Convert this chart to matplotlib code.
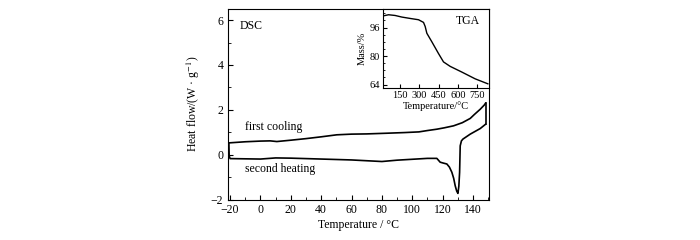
import matplotlib
matplotlib.use('Agg')
import matplotlib.pyplot as plt
from matplotlib.ticker import MultipleLocator

plt.rcParams.update({
    "font.family": ["Liberation Serif", "DejaVu Serif"],
    "mathtext.fontset": "stix",
})

# DSC loop: first cooling (148 -> -20), then second heating (-20 -> 148)
cool_t = [148.3, 147.5, 144.8, 141.0, 138.2, 133.0, 127.2, 121.0, 116.2, 110.0, 104.4,
          95.0, 83.0, 70.0, 60.0, 50.3, 40.0, 30.0, 20.0, 10.8, 6.4, 0.0, -10.0, -20.8]
cool_hf = [2.30, 2.22, 2.03, 1.80, 1.62, 1.43, 1.29, 1.20, 1.14, 1.08, 1.02,
           0.99, 0.96, 0.93, 0.92, 0.89, 0.80, 0.72, 0.65, 0.59, 0.62, 0.61, 0.58, 0.53]

heat_t = [-20.8, -20.6, -20.0, -10.0, 0.0, 10.0, 20.0, 40.0, 60.0, 80.0, 90.0, 100.0,
          110.0, 116.2, 118.4, 120.5, 122.8, 124.5, 126.1, 127.3, 128.3, 129.3, 130.1,
          130.7, 131.2, 131.6, 132.4, 133.4, 138.2, 144.8, 148.3]
heat_hf = [0.53, -0.05, -0.17, -0.18, -0.19, -0.14, -0.15, -0.19, -0.23, -0.30, -0.24, -0.20,
           -0.16, -0.16, -0.33, -0.37, -0.41, -0.55, -0.78, -1.05, -1.38, -1.62, -1.72,
           -1.40, -0.78, 0.40, 0.62, 0.70, 0.92, 1.17, 1.36]

# closing vertical segment at the hot end
end_t = [148.3, 148.3]
end_hf = [1.36, 2.30]

# TGA inset
tga_t = [20, 59, 110, 163, 230, 293, 332, 345, 358, 397, 449, 488, 540, 631, 735, 834]
tga_m = [102.6, 103.2, 102.8, 101.9, 101.1, 100.4, 98.9, 96.6, 92.8, 88.0, 81.4, 76.7,
         74.2, 71.0, 67.2, 64.4]

fig = plt.figure(figsize=(7, 2.4), dpi=100)
ax = fig.add_axes([0.325, 0.168, 0.373, 0.795])

ax.plot(cool_t, cool_hf, color='black', lw=1.2)
ax.plot(heat_t, heat_hf, color='black', lw=1.2)
ax.plot(end_t, end_hf, color='black', lw=1.2)

ax.set_xlim(-21.7, 150.3)
ax.set_ylim(-2, 6.5)
ax.xaxis.set_minor_locator(MultipleLocator(10))
ax.yaxis.set_minor_locator(MultipleLocator(1))
ax.tick_params(which='both', direction='in', labelsize=8.5, top=False, right=False)
ax.tick_params(axis='x', pad=3)
ax.tick_params(axis='y', pad=3)
ax.tick_params(which='major', length=3.5)
ax.tick_params(which='minor', length=2)
ax.set_xticks([-20, 0, 20, 40, 60, 80, 100, 120, 140])
ax.set_xticklabels(['\u221220', '0', '20', '40', '60', '80', '100', '120', '140'])
ax.set_yticks([-2, 0, 2, 4, 6])
ax.set_yticklabels(['\u22122', '0', '2', '4', '6'])
ax.set_xlabel('Temperature / \u00b0C', fontsize=8.5, labelpad=2)
ax.set_ylabel('Heat flow/(W \u00b7 g$^{-1}$)', fontsize=8.5, labelpad=6)

ax.text(-14, 5.75, 'DSC', fontsize=8.5, va='center')
ax.text(-10, 1.25, 'first cooling', fontsize=8.5, va='center')
ax.text(-10, -0.65, 'second heating', fontsize=8.5, va='center')

# inset
ins = fig.add_axes([0.547, 0.633, 0.151, 0.33])
ins.plot(tga_t, tga_m, color='black', lw=1.0)
ins.set_xlim(15, 840)
ins.set_ylim(62, 106.5)
ins.set_xticks([150, 300, 450, 600, 750])
ins.set_yticks([64, 80, 96])
ins.yaxis.set_minor_locator(MultipleLocator(4))
ins.tick_params(which='both', direction='in', labelsize=7.5, pad=2)
ins.tick_params(which='major', length=3)
ins.tick_params(which='minor', length=1.5)
ins.set_xlabel('Temperature/\u00b0C', fontsize=7.5, labelpad=1)
ins.set_ylabel('Mass/%', fontsize=7.5, labelpad=2)
ins.text(0.92, 0.85, 'TGA', transform=ins.transAxes, fontsize=8.5, ha='right', va='center')

fig.savefig('out.png', dpi=100)
